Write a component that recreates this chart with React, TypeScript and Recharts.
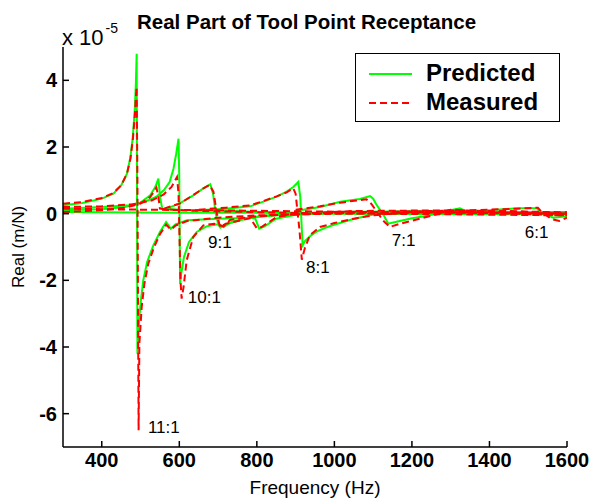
import { LineChart, Line, XAxis, YAxis, ReferenceDot, Legend, Label } from "recharts";

type Pt = [number, number];

const FONT = "'Liberation Sans', Arial, Helvetica, sans-serif";
const GREEN = "#00ff00";
const RED = "#ff0000";

const xTicks = [400, 600, 800, 1000, 1200, 1400, 1600];
const yTicks = [-6, -4, -2, 0, 2, 4];

// Predicted (green), one path per spindle ratio, [Hz, x1e-5 m/N]
const pred11: Pt[] = [[300, 0.25], [350, 0.32], [400, 0.45], [430, 0.6], [450, 0.85], [465, 1.2], [474, 1.7], [480, 2.3], [485, 3.1], [488, 3.9], [490, 4.8], [492, -4.2], [495, -3.4], [500, -2.7], [507, -2.0], [517, -1.45], [533, -0.95], [550, -0.55], [566, -0.25], [578, -0.45], [590, -0.32], [620, -0.2], [700, -0.15], [795, -0.12], [806, -0.45], [820, -0.38], [850, -0.15], [900, -0.03], [1000, 0.02], [1200, 0.04], [1400, 0.03], [1600, 0.0]];
const pred10: Pt[] = [[300, 0.15], [400, 0.2], [470, 0.25], [510, 0.35], [540, 0.5], [560, 0.7], [575, 0.95], [585, 1.35], [592, 1.8], [598, 2.25], [600, 1.0], [602, -2.1], [605, -1.8], [612, -1.3], [625, -0.85], [645, -0.55], [670, -0.38], [700, -0.32], [714, -0.4], [735, -0.25], [780, -0.12], [850, -0.02], [1000, 0.05], [1300, 0.08], [1600, 0.02]];
const predSide: Pt[] = [[300, 0.1], [400, 0.13], [460, 0.2], [500, 0.33], [525, 0.55], [538, 0.8], [546, 1.05], [551, 0.45], [556, 0.15], [600, 0.12], [700, 0.1], [800, 0.05], [1000, 0.0], [1600, -0.02]];
const pred9: Pt[] = [[560, 0.12], [600, 0.3], [636, 0.55], [662, 0.76], [680, 0.88], [687, 0.6], [694, 0.0], [700, -0.3], [706, -0.42], [725, -0.3], [760, -0.18], [800, -0.1], [900, 0.0], [1100, 0.05], [1600, 0.05]];
const pred8: Pt[] = [[650, 0.1], [720, 0.15], [783, 0.22], [817, 0.36], [851, 0.51], [877, 0.66], [894, 0.8], [907, 0.95], [912, 0.5], [918, -0.95], [924, -0.82], [940, -0.65], [954, -0.54], [975, -0.43], [997, -0.34], [1040, -0.19], [1080, -0.08], [1110, 0.0], [1200, 0.05], [1400, 0.03], [1600, -0.02]];
const pred7: Pt[] = [[900, 0.08], [963, 0.2], [1015, 0.36], [1066, 0.44], [1092, 0.53], [1100, 0.45], [1109, 0.26], [1125, 0.0], [1139, -0.3], [1160, -0.24], [1200, -0.14], [1240, -0.06], [1290, 0.08], [1324, 0.16], [1341, 0.06], [1400, 0.04], [1600, 0.0]];
const pred6: Pt[] = [[1150, 0.02], [1250, 0.05], [1350, 0.06], [1400, 0.1], [1470, 0.16], [1522, 0.16], [1531, 0.06], [1550, -0.05], [1565, -0.12], [1600, -0.08]];
const predBase: Pt[] = [[300, 0.05], [600, 0.03], [1000, 0.02], [1600, 0.0]];

// Measured (red dashed)
const meas11: Pt[] = [[300, 0.3], [350, 0.35], [400, 0.47], [430, 0.62], [450, 0.85], [465, 1.2], [474, 1.65], [480, 2.2], [485, 2.9], [488, 3.5], [490, 3.8], [492, 1.0], [495, -6.5], [497, -3.9], [503, -2.8], [510, -2.1], [520, -1.5], [535, -1.0], [550, -0.62], [566, -0.33], [578, -0.48], [590, -0.36], [620, -0.22], [700, -0.12], [800, -0.05], [1000, 0.0], [1300, 0.03], [1600, 0.0]];
const meas10: Pt[] = [[300, 0.2], [400, 0.22], [480, 0.28], [530, 0.4], [560, 0.58], [580, 0.8], [594, 1.1], [598, 0.6], [603, -2.0], [606, -2.55], [611, -2.2], [619, -1.4], [636, -0.7], [662, -0.35], [690, -0.3], [714, -0.38], [731, -0.19], [780, -0.1], [850, -0.04], [1000, 0.02], [1300, 0.06], [1600, -0.05]];
const measSide: Pt[] = [[300, 0.05], [400, 0.1], [460, 0.18], [500, 0.3], [525, 0.5], [541, 0.78], [546, 0.5], [550, 0.15], [600, 0.1], [700, 0.07], [900, 0.02], [1600, -0.05]];
const meas9: Pt[] = [[560, 0.15], [602, 0.31], [636, 0.56], [662, 0.76], [678, 0.86], [688, 0.66], [697, 0.0], [705, -0.4], [720, -0.3], [760, -0.2], [783, -0.13], [800, -0.44], [812, -0.4], [851, -0.1], [903, 0.0], [1050, 0.08], [1300, 0.1], [1600, 0.04]];
const meas8: Pt[] = [[650, 0.12], [720, 0.18], [783, 0.25], [817, 0.38], [851, 0.52], [877, 0.64], [894, 0.76], [900, 0.6], [910, -0.5], [916, -1.38], [920, -1.2], [924, -1.03], [937, -0.64], [963, -0.4], [1000, -0.28], [1050, -0.15], [1100, -0.05], [1200, 0.05], [1400, 0.04], [1600, 0.0]];
const meas7: Pt[] = [[900, 0.12], [963, 0.22], [1015, 0.33], [1060, 0.4], [1083, 0.43], [1095, 0.3], [1110, 0.05], [1125, -0.2], [1143, -0.4], [1170, -0.3], [1220, -0.15], [1270, 0.0], [1300, 0.12], [1320, 0.11], [1360, 0.05], [1450, 0.08], [1600, 0.0]];
const meas6: Pt[] = [[1150, 0.06], [1250, 0.08], [1350, 0.1], [1400, 0.12], [1470, 0.15], [1525, 0.18], [1535, 0.05], [1560, -0.16], [1580, -0.22], [1600, -0.12]];
const measBase: Pt[] = [[300, 0.15], [500, 0.12], [700, 0.1], [1000, 0.06], [1600, 0.0]];

const predictedPaths = [predBase, predSide, pred11, pred10, pred9, pred8, pred7, pred6];
const measuredPaths = [measBase, measSide, meas11, meas10, meas9, meas8, meas7, meas6];

// ratio annotations: text start (Hz, value)
const ratioNames = ["11:1", "10:1", "9:1", "8:1", "7:1", "6:1"];
const ratioHz = [519, 622, 674, 927, 1148, 1491];
const ratioVal = [-6.4, -2.5, -0.85, -1.6, -0.8, -0.55];

const rows = (pts: Pt[]) => pts.map(([f, v]) => ({ f, v }));

const BottomTick = ({ x, y, payload }: any) => (
  <g>
    <line x1={x} y1={y} x2={x} y2={y - 6} stroke="#000" strokeWidth={1.5} />
    <text x={x} y={y + 20} textAnchor="middle" fontSize={20} fontWeight="bold" fontFamily={FONT} fill="#000">
      {payload.value}
    </text>
  </g>
);
const LeftTick = ({ x, y, payload }: any) => (
  <g>
    <line x1={x} y1={y} x2={x + 6} y2={y} stroke="#000" strokeWidth={1.5} />
    <text x={x - 6} y={y + 7} textAnchor="end" fontSize={20} fontWeight="bold" fontFamily={FONT} fill="#000">
      {payload.value}
    </text>
  </g>
);
const TopTick = ({ x, y }: any) => <line x1={x} y1={y} x2={x} y2={y + 6} stroke="#000" strokeWidth={1.5} />;
const RightTick = ({ x, y }: any) => <line x1={x} y1={y} x2={x - 6} y2={y} stroke="#000" strokeWidth={1.5} />;

const LegendBox = () => (
  <div style={{ position: "relative", width: 205, height: 69, border: "1.5px solid #000", background: "#fff", boxSizing: "border-box", fontFamily: FONT, fontWeight: "bold", fontSize: 24, color: "#000" }}>
    <svg width={60} height={69} style={{ position: "absolute", left: 0, top: 0 }}>
      <line x1={13} y1={20} x2={56} y2={20} stroke={GREEN} strokeWidth={2} />
      <line x1={13} y1={49} x2={56} y2={49} stroke={RED} strokeWidth={2} strokeDasharray="7 4" />
    </svg>
    <div style={{ position: "absolute", left: 70, top: 5, lineHeight: "28px" }}>Predicted</div>
    <div style={{ position: "absolute", left: 70, top: 34, lineHeight: "28px" }}>Measured</div>
  </div>
);

export default function App() {
  return (
    <div style={{ position: "absolute", left: 0, top: 0, width: 596, height: 498, background: "#fff" }}>
      <div style={{ position: "absolute", left: 62, top: 25, fontFamily: FONT, fontSize: 22, color: "#000", zIndex: 2 }}>
        x 10<span style={{ position: "relative", top: -12, fontSize: 14, marginLeft: 2 }}>-5</span>
      </div>
      <div style={{ position: "absolute", left: 137, top: 10, fontFamily: FONT, fontSize: 20.5, fontWeight: "bold", color: "#000", zIndex: 2 }}>
        Real Part of Tool Point Receptance
      </div>
      <LineChart width={596} height={498} margin={{ top: 47, right: 29, bottom: 0, left: 0 }}>
        <XAxis dataKey="f" type="number" domain={[300, 1600]} ticks={xTicks} interval={0} allowDataOverflow
          height={51} tickSize={0} tickMargin={0} tick={<BottomTick />} axisLine={{ stroke: "#000", strokeWidth: 1.5 }}>
          <Label content={({ viewBox }: any) => (
            <text x={viewBox.x + viewBox.width / 2} y={viewBox.y + 47} textAnchor="middle" fontSize={19} fontFamily={FONT} fill="#000">
              Frequency (Hz)
            </text>
          )} />
        </XAxis>
        <XAxis xAxisId="t" orientation="top" type="number" domain={[300, 1600]} ticks={xTicks} interval={0} allowDataOverflow
          height={0} tickSize={0} tickMargin={0} tick={<TopTick />} axisLine={{ stroke: "#000", strokeWidth: 1.5 }} />
        <YAxis type="number" domain={[-7, 5]} ticks={yTicks} interval={0} allowDataOverflow width={63}
          tickSize={0} tickMargin={0} tick={<LeftTick />} axisLine={{ stroke: "#000", strokeWidth: 1.5 }}>
          <Label content={({ viewBox }: any) => {
            const cx = viewBox.x + 24;
            const cy = viewBox.y + viewBox.height / 2;
            return (
              <text x={cx} y={cy} transform={`rotate(-90 ${cx} ${cy})`} textAnchor="middle" fontSize={17} fontFamily={FONT} fill="#000">
                Real (m/N)
              </text>
            );
          }} />
        </YAxis>
        <YAxis yAxisId="r" orientation="right" type="number" domain={[-7, 5]} ticks={yTicks} interval={0} allowDataOverflow width={0}
          tickSize={0} tickMargin={0} tick={<RightTick />} axisLine={{ stroke: "#000", strokeWidth: 1.5 }} />
        {predictedPaths.map((p, i) => (
          <Line key={`p${i}`} data={rows(p)} dataKey="v" type="linear" stroke={GREEN} strokeWidth={2} dot={false} activeDot={false} isAnimationActive={false} legendType="none" />
        ))}
        {measuredPaths.map((p, i) => (
          <Line key={`m${i}`} data={rows(p)} dataKey="v" type="linear" stroke={RED} strokeWidth={2} strokeDasharray="7 4" dot={false} activeDot={false} isAnimationActive={false} legendType="none" />
        ))}
        {ratioNames.map((n, i) => (
          <ReferenceDot key={n} x={ratioHz[i]} y={ratioVal[i]} r={0} fill="none" stroke="none"
            label={{ value: n, position: "right", offset: 0, fontSize: 17, fontFamily: FONT, fill: "#000" }} />
        ))}
        <Legend layout="vertical" align="center" verticalAlign="middle" content={<LegendBox />}
          wrapperStyle={{ left: 355, top: 53, width: 205, height: 69 }} />
      </LineChart>
    </div>
  );
}
